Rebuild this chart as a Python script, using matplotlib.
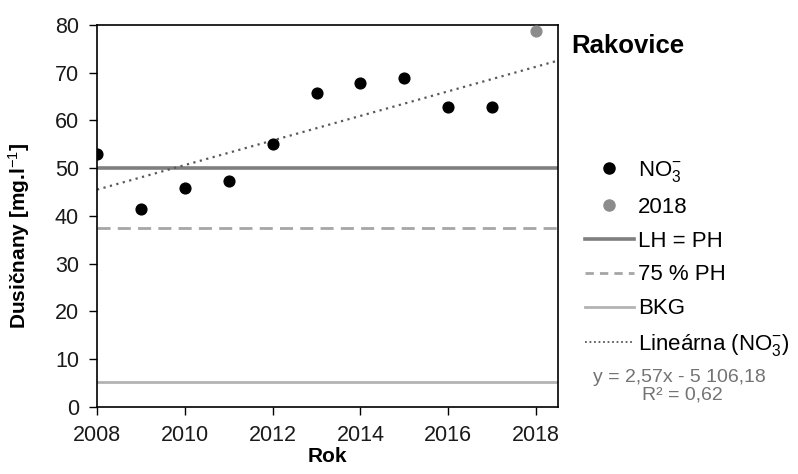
import matplotlib.pyplot as plt
import numpy as np
from matplotlib.lines import Line2D

plt.rcParams['font.family'] = ['Liberation Sans', 'DejaVu Sans']
plt.rcParams['mathtext.fontset'] = 'custom'
plt.rcParams['mathtext.rm'] = 'Liberation Sans'
plt.rcParams['mathtext.it'] = 'Liberation Sans'
plt.rcParams['mathtext.bf'] = 'Liberation Sans:bold'

# nitrate concentrations, Rakovice
years = [2008, 2009, 2010, 2011, 2012, 2013, 2014, 2015, 2016, 2017]
no3 = [53.0, 41.5, 45.9, 47.3, 55.1, 65.8, 67.9, 68.9, 62.8, 62.8]
year_2018 = [2018]
no3_2018 = [78.7]

lh_ph = 50.0
ph_75 = 37.5
bkg = 5.3

x_ticks = [2008, 2010, 2012, 2014, 2016, 2018]
y_ticks = [0, 10, 20, 30, 40, 50, 60, 70, 80]

fig = plt.figure(figsize=(7.98, 4.74), dpi=100)
ax = fig.add_axes([0.1216, 0.1414, 0.5777, 0.8059])

ax.axhline(bkg, color='#b3b3b3', lw=2, zorder=1)
ax.axhline(ph_75, color='#a6a6a6', lw=2, ls=(0, (4.7, 2.6)), zorder=1)
ax.axhline(lh_ph, color='#7f7f7f', lw=2.6, zorder=1)

# linear trend of the 2008-2017 series
k, q = np.polyfit(years, no3, 1)
xl = np.array([2008, 2018.5])
ax.plot(xl, k * xl + q, color='#595959', lw=1.6, ls=(0, (1, 2)), zorder=2)

ax.scatter(years, no3, s=60, color='black', zorder=3)
ax.scatter(year_2018, no3_2018, s=60, color='#8c8c8c', zorder=3, clip_on=False)

ax.set_xlim(2008, 2018.5)
ax.set_ylim(0, 80)
ax.set_xticks(x_ticks)
ax.set_yticks(y_ticks)
ax.tick_params(labelsize=15.5, length=6, width=1, pad=7, colors='black', labelcolor='#1a1a1a')
for sp in ax.spines.values():
    sp.set_linewidth(1.2)

ax.set_xlabel('Rok', fontsize=15, fontweight='bold', labelpad=1)
ax.set_ylabel('Dusičnany [mg.l$^{-1}$]', fontsize=15, fontweight='bold')
ax.yaxis.set_label_coords(-0.141, 0.448)

fig.text(0.716, 0.902, 'Rakovice', fontsize=18.5, fontweight='bold', ha='left', va='center')

handles = [
    Line2D([], [], ls='none', marker='o', ms=8, color='black'),
    Line2D([], [], ls='none', marker='o', ms=8, color='#8c8c8c'),
    Line2D([], [], color='#7f7f7f', lw=2.6),
    Line2D([], [], color='#a6a6a6', lw=2, ls=(0, (3, 2.2))),
    Line2D([], [], color='#b3b3b3', lw=2),
    Line2D([], [], color='#595959', lw=1.3, ls=(0, (1, 1.5))),
]
labels = ['NO$_3^{-}$', '2018', 'LH = PH', '75 % PH', 'BKG', 'Lineárna (NO$_3^{-}$)']
fig.legend(handles, labels, loc='upper left', bbox_to_anchor=(0.733, 0.665),
           frameon=False, fontsize=16, handlelength=2.2, handletextpad=0.2,
           labelspacing=0.58, borderaxespad=0, borderpad=0)

fig.text(0.743, 0.195, 'y = 2,57x - 5 106,18', fontsize=14, color='#737373', ha='left')
fig.text(0.804, 0.158, 'R² = 0,62', fontsize=14, color='#737373', ha='left')

fig.savefig('out.png', dpi=100)
